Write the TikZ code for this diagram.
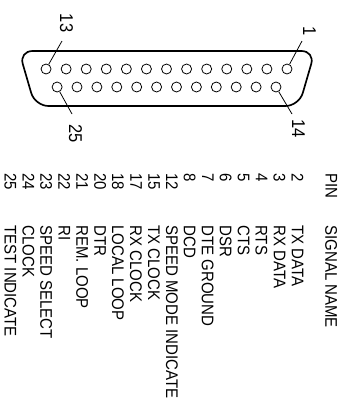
\documentclass[tikz,border=0pt]{standalone}
\usepackage{fontspec}
\setmainfont{Liberation Sans}
\usepackage{tikz}

\newcommand{\talltxt}[1]{\scalebox{1}[1.12]{#1}}

\begin{document}
\begin{tikzpicture}[x=0.02cm, y=-0.02cm, inner sep=0mm, >=stealth,
  pin/.style={circle, draw=black, fill=white, line width=0.45pt, minimum size=0.2cm},
  lead/.style={line width=0.45pt},
  lab/.style={rotate=-90, font=\fontsize{9.4}{11}\selectfont},
  rowtxt/.style={rotate=-90, anchor=north west, font=\fontsize{8.55}{10}\selectfont}]
\useasboundingbox (0,0) rectangle (344,400);
\draw[line width=0.95pt, rounded corners=0.27cm] (19,51) -- (315,51) -- (299,106) -- (35,106) -- cycle;
% pins
\foreach \n in {1,...,13} {
  \node (p\n) at ({287-(\n-1)*20.08},69) [pin] {};
}
\foreach \n in {14,...,25} {
  \node (p\n) at ({276-(\n-14)*19.9},87) [pin] {};
}
% pin numbers with their leaders
\node (l1) at (309.5,31) [lab] {\talltxt{1}};
\node (l13) at (66.5,23) [lab] {\talltxt{13}};
\node (l14) at (298.5,128.5) [lab] {\talltxt{14}};
\node (l25) at (75.5,133.5) [lab] {\talltxt{25}};
\coordinate (e1) at (302,41);
\coordinate (e13) at (62,41);
\coordinate (e14) at (292,114);
\coordinate (e25) at (72,114);
\draw[lead] (p1) -- (e1);
\draw[lead] (p13) -- (e13);
\draw[lead] (p14) -- (e14);
\draw[lead] (p25) -- (e25);
% table
\node (pinhead) at (337.5,173) [rowtxt] {\talltxt{PIN}};
\node (namehead) at (337.5,225) [rowtxt] {\talltxt{SIGNAL NAME}};
\foreach \row/\num/\name in {0/2/TX DATA, 1/3/RX DATA, 2/4/RTS, 3/5/CTS, 4/6/DSR, 5/7/DTE GROUND,
  6/8/DCD, 7/12/SPEED MODE INDICATE, 8/15/TX CLOCK, 9/17/RX CLOCK, 10/18/LOCAL LOOP, 11/20/DTR,
  12/21/REM. LOOP, 13/22/RI, 14/23/SPEED SELECT, 15/24/CLOCK, 16/25/TEST INDICATE} {
  \node (n\row) at ({303.7-\row*17.94},173) [rowtxt] {\talltxt{\num}};
  \node (s\row) at ({303.7-\row*17.94},225) [rowtxt] {\talltxt{\name}};
}
\end{tikzpicture}
\end{document}
